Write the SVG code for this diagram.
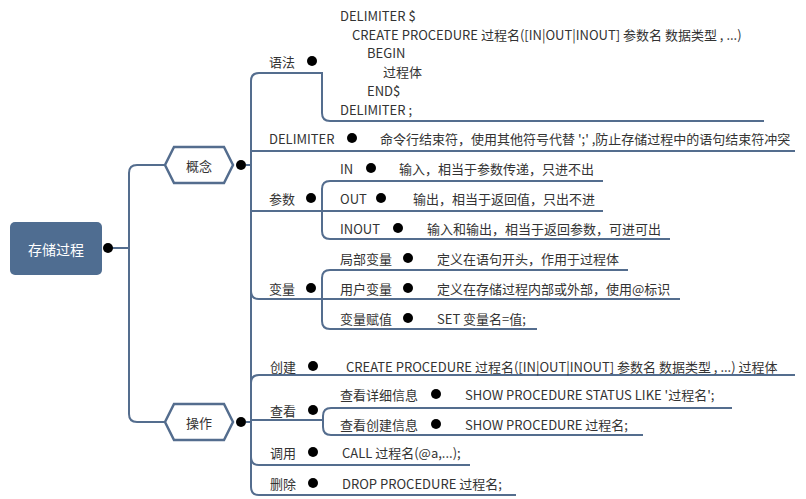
<svg xmlns="http://www.w3.org/2000/svg" width="806" height="499" viewBox="0 0 806 499">
<style>
text{font-family:"Microsoft YaHei","Noto Sans CJK SC","Liberation Sans",sans-serif;font-size:13px;fill:#333;dominant-baseline:central}
.c{fill:none;stroke:#546d8e;stroke-width:2}
.cb circle{fill:#d9efb8;stroke:#7fb04a;stroke-width:1}
.cb line{stroke:#5d8a2f;stroke-width:1}
</style>
<defs>
<g id="m"><circle r="5" cx="0" cy="0"/><line x1="-3" y1="0" x2="3" y2="0"/></g>
</defs>
<g id="connectors">
<path class="c" stroke-width="3" d="M112 248H129M165 165H137Q129 165 129 173V414Q129 422 137 422H165"/>
<path class="c" d="M246 165H251M259 73H322V113Q322 121 330 121H764M251 480V81Q251 73 259 73M251 151H795M251 211H603M330 181H603M330 181Q322 181 322 189V231Q322 239 330 239H670M251 291Q251 299 259 299H680M251 81V291M330 270H628M330 270Q322 270 322 278V321Q322 329 330 329H537"/>
<path class="c" d="M246 422H251M259 375H795M259 375Q251 375 251 383V487Q251 495 259 495H516M251 420H322M331 408H732M331 408Q323 408 323 416V427Q323 435 331 435H643M251 457Q251 465 259 465H470"/>
</g>
<g id="root"><rect x="10" y="222" width="92" height="53" rx="5" fill="#4f6d91"/><text x="56" y="248.5" text-anchor="middle" style="fill:#fff;font-size:14px">存储过程</text></g>
<g id="gainian"><polygon points="165,165 174,147 224,147 233,165 224,183 174,183" fill="#fff" stroke="#546d8e" stroke-width="2.5"/><text x="199" y="165" text-anchor="middle">概念</text></g>
<g id="caozuo"><polygon points="165,422 174,404 224,404 233,422 224,440 174,440" fill="#fff" stroke="#546d8e" stroke-width="2.5"/><text x="199" y="422" text-anchor="middle">操作</text></g>
<g class="cb">
<use href="#m" x="108" y="248"/><use href="#m" x="241" y="165"/><use href="#m" x="241" y="422"/>
<use href="#m" x="312" y="61"/><use href="#m" x="352" y="138"/><use href="#m" x="311" y="198"/><use href="#m" x="311" y="288"/>
<use href="#m" x="371" y="168"/><use href="#m" x="381" y="198"/><use href="#m" x="398" y="228"/>
<use href="#m" x="408" y="258"/><use href="#m" x="408" y="288"/><use href="#m" x="408" y="318"/>
<use href="#m" x="313" y="366"/><use href="#m" x="313" y="410"/><use href="#m" x="313" y="452"/><use href="#m" x="313" y="483"/>
<use href="#m" x="436" y="394"/><use href="#m" x="436" y="424"/>
</g>
<g id="yufa"><text x="269" y="61">语法</text>
<text x="340" y="15">DELIMITER $</text><text x="352" y="34">CREATE PROCEDURE 过程名([IN|OUT|INOUT] 参数名 数据类型 , ...)</text><text x="367" y="52">BEGIN</text><text x="383" y="71">过程体</text><text x="367" y="90">END$</text><text x="340" y="109">DELIMITER ;</text></g>
<g id="delim"><text x="269" y="138">DELIMITER</text><text x="380" y="138">命令行结束符，使用其他符号代替 ';' ,防止存储过程中的语句结束符冲突</text></g>
<g id="canshu"><text x="269" y="198">参数</text>
<text x="340" y="168">IN</text><text x="399" y="168">输入，相当于参数传递，只进不出</text>
<text x="340" y="198">OUT</text><text x="413" y="198">输出，相当于返回值，只出不进</text>
<text x="340" y="228">INOUT</text><text x="427" y="228">输入和输出，相当于返回参数，可进可出</text></g>
<g id="bianliang"><text x="269" y="288">变量</text>
<text x="340" y="258">局部变量</text><text x="437" y="258">定义在语句开头，作用于过程体</text>
<text x="340" y="288">用户变量</text><text x="437" y="288">定义在存储过程内部或外部，使用@标识</text>
<text x="340" y="318">变量赋值</text><text x="437" y="318">SET 变量名=值;</text></g>
<g id="chuangjian"><text x="270" y="366">创建</text><text x="346" y="366">CREATE PROCEDURE 过程名([IN|OUT|INOUT] 参数名 数据类型 , ...) 过程体</text></g>
<g id="chakan"><text x="270" y="410">查看</text>
<text x="340" y="394">查看详细信息</text><text x="465" y="394">SHOW PROCEDURE STATUS LIKE '过程名';</text>
<text x="340" y="424">查看创建信息</text><text x="465" y="424">SHOW PROCEDURE 过程名;</text></g>
<g id="diaoyong"><text x="270" y="452">调用</text><text x="342" y="452">CALL 过程名(@a,...);</text></g>
<g id="shanchu"><text x="270" y="483">删除</text><text x="342" y="483">DROP PROCEDURE 过程名;</text></g>
</svg>
